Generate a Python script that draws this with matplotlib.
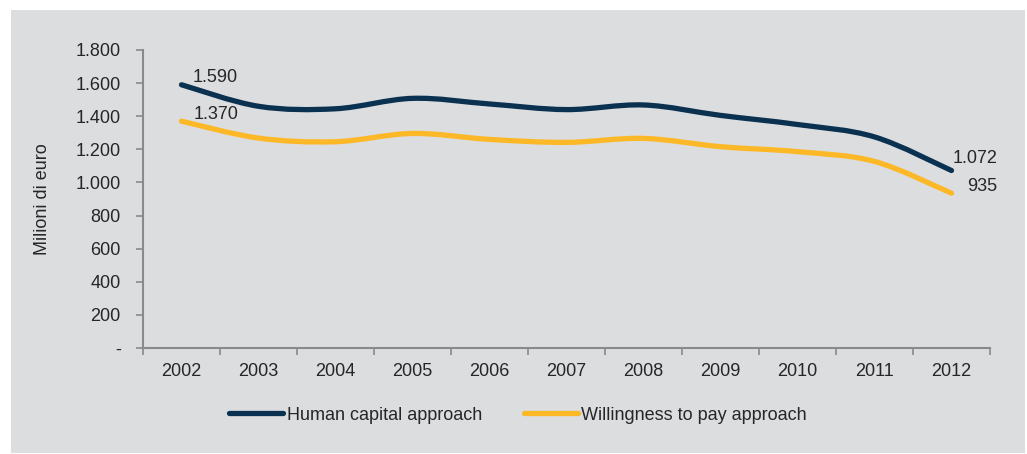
import numpy as np
import matplotlib
matplotlib.use("Agg")
import matplotlib.pyplot as plt
from matplotlib.path import Path
from matplotlib.patches import PathPatch, Rectangle
from matplotlib.lines import Line2D
from matplotlib.ticker import FuncFormatter

years = ["2002", "2003", "2004", "2005", "2006", "2007", "2008", "2009", "2010", "2011", "2012"]
human_capital = [1590, 1460, 1445, 1508, 1474, 1440, 1468, 1405, 1350, 1275, 1072]
willingness = [1370, 1268, 1246, 1296, 1260, 1242, 1266, 1216, 1186, 1127, 935]

NAVY = "#0b3150"
YELLOW = "#fdb827"
TEXT = "#262626"
AXIS = "#8a8a8a"
BG = "#dcdddf"
FS = 13

plt.rcParams["font.family"] = ["Liberation Sans", "DejaVu Sans"]


def smooth_path(xs, ys):
    # cubic bezier through every point, like a spreadsheet "smoothed line"
    pts = np.column_stack([xs, ys]).astype(float)
    verts = [pts[0]]
    codes = [Path.MOVETO]
    n = len(pts)
    for i in range(n - 1):
        p0 = pts[i - 1] if i > 0 else pts[i]
        p1 = pts[i]
        p2 = pts[i + 1]
        p3 = pts[i + 2] if i + 2 < n else pts[i + 1]
        c1 = p1 + (p2 - p0) / 6.0
        c2 = p2 - (p3 - p1) / 6.0
        verts += [c1, c2, p2]
        codes += [Path.CURVE4] * 3
    return Path(verts, codes)


fig = plt.figure(figsize=(10.27, 4.54), dpi=100)
fig.patch.set_facecolor("white")
fig.patches.append(Rectangle((11 / 1027, 1 - 453 / 454), (1025 - 11) / 1027, (453 - 10) / 454,
                             transform=fig.transFigure, facecolor=BG, edgecolor="none", zorder=-10))

ax = fig.add_axes([143 / 1027, 1 - 348 / 454, (990 - 143) / 1027, (348 - 50) / 454])
ax.set_facecolor("none")

x = np.arange(len(years))
for vals, col in [(human_capital, NAVY), (willingness, YELLOW)]:
    patch = PathPatch(smooth_path(x, vals), facecolor="none", edgecolor=col, lw=3.8,
                      capstyle="round", joinstyle="round")
    ax.add_patch(patch)

ax.set_xlim(-0.5, len(years) - 0.5)
ax.set_ylim(0, 1800)

ax.set_xticks(x)
ax.set_xticklabels(years)
ax.set_xticks(np.arange(-0.5, len(years)), minor=True)
ax.tick_params(axis="x", which="major", length=0, pad=11, labelsize=FS, labelcolor=TEXT)
ax.tick_params(axis="x", which="minor", length=5, color=AXIS, width=1.2)

ax.set_yticks(np.arange(0, 1801, 200))
ax.yaxis.set_major_formatter(FuncFormatter(lambda v, p: "-" if v == 0 else f"{int(v):,}".replace(",", ".")))
ax.tick_params(axis="y", length=5, color=AXIS, width=1.2, pad=11, labelsize=FS, labelcolor=TEXT)

for s in ["top", "right"]:
    ax.spines[s].set_visible(False)
for s in ["left", "bottom"]:
    ax.spines[s].set_color(AXIS)
    ax.spines[s].set_linewidth(1.5)

ax.set_ylabel("Milioni di euro", fontsize=FS, color=TEXT, labelpad=18)

fmt = lambda v: f"{v:,}".replace(",", ".")
ax.annotate(fmt(human_capital[0]), (0, human_capital[0]), xytext=(8, -1), textcoords="offset points",
            fontsize=FS, color=TEXT, va="bottom")
ax.annotate(fmt(willingness[0]), (0, willingness[0]), xytext=(9, -1.5), textcoords="offset points",
            fontsize=FS, color=TEXT, va="bottom")
ax.annotate(fmt(human_capital[-1]), (10, human_capital[-1]), xytext=(0.5, 2.5), textcoords="offset points",
            fontsize=FS, color=TEXT, va="bottom")
ax.annotate(fmt(willingness[-1]), (10, willingness[-1]), xytext=(11.5, -1), textcoords="offset points",
            fontsize=FS, color=TEXT, va="bottom")

handles = [Line2D([], [], color=NAVY, lw=3.8, solid_capstyle="round"),
           Line2D([], [], color=YELLOW, lw=3.8, solid_capstyle="round")]
fig.legend(handles, ["Human capital approach", "Willingness to pay approach"],
           loc="center", bbox_to_anchor=(518 / 1027, 1 - 415 / 454), ncol=2, frameon=False,
           fontsize=FS, labelcolor=TEXT, handlelength=3.0, handletextpad=0.2, columnspacing=2.3)

fig.savefig("out.png", dpi=100, facecolor="white")
